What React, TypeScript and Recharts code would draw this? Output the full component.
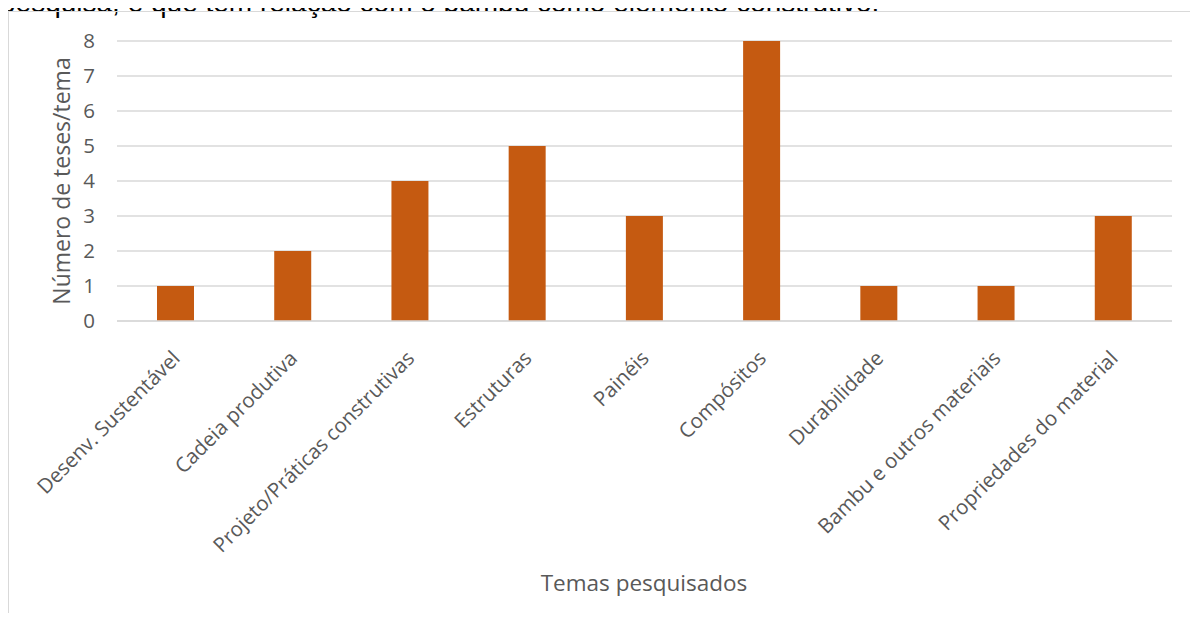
import { BarChart, Bar, XAxis, YAxis, CartesianGrid } from "recharts";

// temas e número de teses por tema
const temas = [
  "Desenv. Sustentável",
  "Cadeia produtiva",
  "Projeto/Práticas construtivas",
  "Estruturas",
  "Painéis",
  "Compósitos",
  "Durabilidade",
  "Bambu e outros materiais",
  "Propriedades do material",
];
const teses = [1, 2, 4, 5, 3, 8, 1, 1, 3];
const yTicks = [0, 1, 2, 3, 4, 5, 6, 7, 8];

const FONT = "'Open Sans', sans-serif";
const TEXT_COLOR = "#595959";

const chartData = temas.map((tema, i) => ({ tema, teses: teses[i] }));

// rótulo inclinado do eixo X
const AngledTick = (props: any) => {
  const { x, y, payload } = props;
  return (
    <g transform={`translate(${x},${y + 25})`}>
      <text
        transform="rotate(-45)"
        textAnchor="end"
        dominantBaseline="central"
        fill={TEXT_COLOR}
        fontSize={20.5}
        fontFamily={FONT}
      >
        {payload.value}
      </text>
    </g>
  );
};

export default function App() {
  return (
    <div
      style={{
        position: "relative",
        margin: -8,
        width: 1198,
        height: 621,
        overflow: "hidden",
        background: "#fff",
      }}
    >
      {/* linha do texto do documento, cortada no topo */}
      <div
        style={{
          position: "absolute",
          left: 0,
          top: -11,
          fontFamily: "'Liberation Sans', Arial, sans-serif",
          fontSize: 28,
          lineHeight: "28px",
          color: "#000",
          whiteSpace: "nowrap",
        }}
      >
        pesquisa, e que tem relação com o bambu como elemento construtivo.
      </div>
      <div
        style={{
          position: "absolute",
          left: 8,
          top: 11,
          width: 1200,
          height: 620,
          borderLeft: "1.5px solid #d9d9d9",
          borderTop: "1.5px solid #d9d9d9",
        }}
      />
      <div style={{ position: "absolute", left: 0, top: 0 }}>
        <BarChart
          width={1198}
          height={621}
          data={chartData}
          margin={{ top: 41, right: 26, left: 57, bottom: 0 }}
          barSize={37}
        >
          <CartesianGrid vertical={false} stroke="#d9d9d9" strokeWidth={1.3} />
          <XAxis
            dataKey="tema"
            interval={0}
            height={300}
            axisLine={{ stroke: "#d9d9d9", strokeWidth: 1.3 }}
            tickLine={false}
            tick={<AngledTick />}
          />
          <YAxis
            width={60}
            domain={[0, 8]}
            ticks={yTicks}
            axisLine={false}
            tickLine={false}
            tickSize={0}
            tickMargin={22}
            tick={{ fill: TEXT_COLOR, fontSize: 20.5, fontFamily: FONT }}
          />
          <Bar dataKey="teses" fill="#C55A11" isAnimationActive={false} />
        </BarChart>
      </div>
      <div
        style={{
          position: "absolute",
          left: 61,
          top: 181,
          transform: "translate(-50%, -50%) rotate(-90deg)",
          fontFamily: FONT,
          fontSize: 23,
          color: TEXT_COLOR,
          whiteSpace: "nowrap",
        }}
      >
        Número de teses/tema
      </div>
      <div
        style={{
          position: "absolute",
          left: 644,
          top: 582,
          transform: "translate(-50%, -50%)",
          fontFamily: FONT,
          fontSize: 22.5,
          color: TEXT_COLOR,
          whiteSpace: "nowrap",
        }}
      >
        Temas pesquisados
      </div>
    </div>
  );
}
